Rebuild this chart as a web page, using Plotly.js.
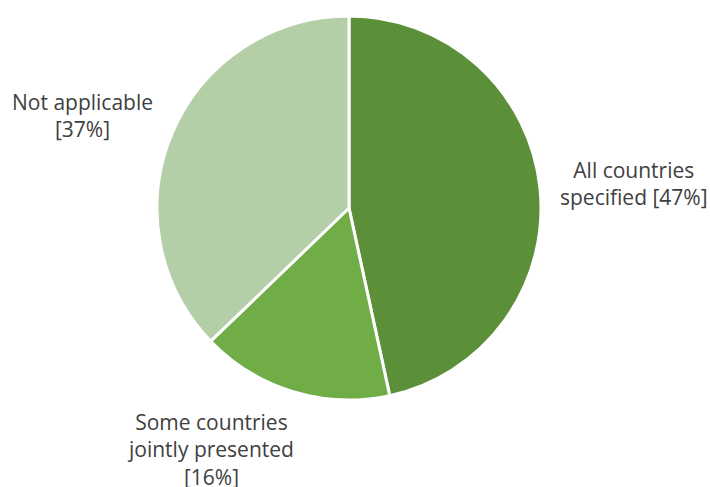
<!DOCTYPE html>
<html>
<head>
<meta charset="utf-8">
<script src="https://cdn.plot.ly/plotly-3.0.1.min.js"></script>
<style>html,body{margin:0;padding:0;background:#fff;}#chart{width:710px;height:487px;}</style>
</head>
<body>
<div id="chart"></div>
<script>
const categories = ["All countries specified", "Some countries jointly presented", "Not applicable"];
const values = [46.6, 16.2, 37.2];
const labelLines = [["All countries", "specified [47%]"], ["Some countries", "jointly presented", "[16%]"], ["Not applicable", "[37%]"]];
const colors = ["#5B9039", "#70AD47", "#B4CFA7"];
// label centres in pixels (style only)
const labelPos = [[634, 183], [210, 449], [82, 116]];

const W = 710, H = 487;
const annotations = labelLines.map((lines, i) => ({
  text: lines.join("<br>"),
  xref: "paper", yref: "paper",
  x: labelPos[i][0] / W, y: 1 - labelPos[i][1] / H,
  xanchor: "center", yanchor: "middle",
  showarrow: false, align: "center",
  font: {family: "Open Sans, sans-serif", size: 21, color: "#404040"}
}));

Plotly.newPlot("chart", [{
  type: "pie",
  labels: categories,
  values: values,
  sort: false,
  direction: "clockwise",
  rotation: 0,
  textinfo: "none",
  hoverinfo: "label+percent",
  marker: {colors: colors, line: {color: "#ffffff", width: 3}},
  domain: {x: [157 / W, 541 / W], y: [1 - 400 / H, 1 - 16 / H]}
}], {
  width: W, height: H,
  margin: {l: 0, r: 0, t: 0, b: 0},
  showlegend: false,
  paper_bgcolor: "#ffffff",
  annotations: annotations
}, {displayModeBar: false, staticPlot: true});
</script>
</body>
</html>
